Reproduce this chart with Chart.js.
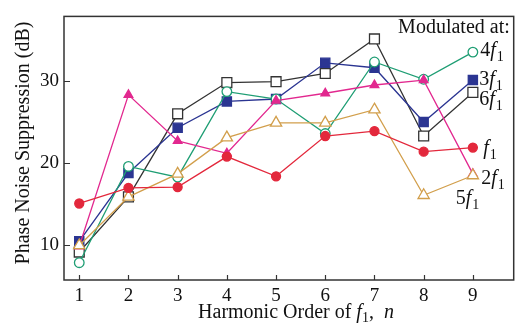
<!DOCTYPE html>
<html>
<head>
<meta charset="utf-8">
<script src="https://cdn.jsdelivr.net/npm/chart.js@4.4.0/dist/chart.umd.min.js"></script>
<style>
  html, body { margin: 0; padding: 0; background: #fff; }
  #wrap { width: 522px; height: 327px; }
</style>
</head>
<body>
<div id="wrap"><canvas id="chart" width="522" height="327"></canvas></div>
<script>
// harmonic order n
const harmonics = [1, 2, 3, 4, 5, 6, 7, 8, 9];
const xTicks = [1, 2, 3, 4, 5, 6, 7, 8, 9];
const yTicks = [10, 20, 30];

// phase noise suppression (dB), one list per modulation frequency
const modF1 = [15.1, 17.0, 17.1, 20.8, 18.4, 23.3, 23.9, 21.4, 21.9];
const mod2F1 = [9.9, 28.3, 22.7, 21.2, 27.6, 28.5, 29.5, 30.1, 18.7];
const mod3F1 = [10.5, 18.8, 24.3, 27.5, 27.8, 32.2, 31.6, 25.0, 30.1];
const mod4F1 = [7.9, 19.6, 18.3, 28.7, 27.8, 23.6, 32.3, 30.2, 33.5];
const mod5F1 = [10.0, 15.9, 18.7, 23.1, 24.9, 24.9, 26.5, 16.1, 18.5];
const mod6F1 = [9.2, 15.9, 26.0, 29.8, 29.9, 30.9, 35.1, 23.3, 28.6];

const serif = "'Liberation Serif', 'DejaVu Serif', serif";

const toPoints = vals => vals.map((v, i) => ({ x: harmonics[i], y: v }));

function series(label, vals, color, style, filled, radius) {
  return {
    label,
    data: toPoints(vals),
    borderColor: color,
    backgroundColor: filled ? color : '#ffffff',
    pointStyle: style,
    pointRadius: radius,
    pointBorderWidth: 1.3,
    pointBorderColor: color,
    pointBackgroundColor: filled ? color : '#ffffff',
    borderWidth: 1.3,
    tension: 0,
  };
}

// in-plot labels (data coordinates)
const seriesLabels = [
  { pre: '4', x: 9.15, y: 33.04 },
  { pre: '3', x: 9.13, y: 29.56 },
  { pre: '6', x: 9.13, y: 27.04 },
  { pre: '', x: 9.21, y: 21.16 },
  { pre: '2', x: 9.17, y: 17.44 },
  { pre: '5', x: 8.65, y: 15.04 },
];

function drawF(ctx, pre, x, y) {
  ctx.textAlign = 'left';
  ctx.textBaseline = 'alphabetic';
  ctx.font = '20px ' + serif;
  ctx.fillText(pre, x, y);
  x += ctx.measureText(pre).width;
  ctx.font = 'italic 20px ' + serif;
  ctx.fillText('f', x, y);
  x += ctx.measureText('f').width + 1;
  ctx.font = '14px ' + serif;
  ctx.fillText('1', x, y + 5);
  return x + ctx.measureText('1').width;
}

const decorPlugin = {
  id: 'decor',
  afterDraw(chart) {
    const ctx = chart.ctx;
    const a = chart.chartArea;
    const xs = chart.scales.x;
    const ys = chart.scales.y;
    ctx.save();
    ctx.strokeStyle = '#333';
    ctx.lineWidth = 1.5;
    ctx.strokeRect(a.left, a.top, a.right - a.left, a.bottom - a.top);
    ctx.lineWidth = 1.2;
    ctx.beginPath();
    xTicks.forEach(v => {
      const px = Math.round(xs.getPixelForValue(v)) + 0.5;
      ctx.moveTo(px, a.bottom);
      ctx.lineTo(px, a.bottom - 5);
    });
    yTicks.forEach(v => {
      const py = Math.round(ys.getPixelForValue(v)) + 0.5;
      ctx.moveTo(a.left, py);
      ctx.lineTo(a.left + 6, py);
    });
    ctx.stroke();

    ctx.fillStyle = '#111';
    // legend text
    ctx.font = '20px ' + serif;
    ctx.textAlign = 'right';
    ctx.textBaseline = 'alphabetic';
    ctx.fillText('Modulated at:', xs.getPixelForValue(9.75), ys.getPixelForValue(35.8));
    seriesLabels.forEach(l => {
      drawF(ctx, l.pre, xs.getPixelForValue(l.x), ys.getPixelForValue(l.y));
    });

    // y title
    ctx.save();
    ctx.translate(29, 143);
    ctx.rotate(-Math.PI / 2);
    ctx.font = '20px ' + serif;
    ctx.textAlign = 'center';
    ctx.fillText('Phase Noise Suppression (dB)', 0, 0);
    ctx.restore();

    // x title with italic parts
    const parts = [
      ['Harmonic Order of ', '20px'],
      ['f', 'italic 20px'],
      ['1', '14px', 4],
      [',  ', '20px'],
      ['n', 'italic 20px'],
    ];
    let total = 0;
    parts.forEach(p => { ctx.font = p[1] + ' ' + serif; total += ctx.measureText(p[0]).width; });
    let x = 296 - total / 2;
    ctx.textAlign = 'left';
    parts.forEach(p => {
      ctx.font = p[1] + ' ' + serif;
      ctx.fillText(p[0], x, 318 + (p[2] || 0));
      x += ctx.measureText(p[0]).width;
    });
    ctx.restore();
  }
};

new Chart(document.getElementById('chart').getContext('2d'), {
  type: 'line',
  data: {
    datasets: [
      series('f1', modF1, '#e3283c', 'circle', true, 4.5),
      series('5f1', mod5F1, '#d29f4c', 'triangle', false, 6.5),
      series('2f1', mod2F1, '#e2288f', 'triangle', true, 5),
      series('4f1', mod4F1, '#1f9e74', 'circle', false, 4.8),
      series('3f1', mod3F1, '#2b3592', 'rect', true, 6.5),
      series('6f1', mod6F1, '#333333', 'rect', false, 7),
    ],
  },
  options: {
    responsive: false,
    animation: false,
    layout: { padding: { top: 13, right: 1, left: 0, bottom: 0 } },
    plugins: {
      legend: { display: false },
      tooltip: { enabled: false },
    },
    scales: {
      x: {
        type: 'linear',
        min: 0.69,
        max: 9.83,
        afterBuildTicks: s => { s.ticks = xTicks.map(v => ({ value: v })); },
        afterFit: s => { s.height = 47; },
        grid: { display: false, drawTicks: false },
        border: { display: false },
        ticks: { color: '#111', padding: 5, font: { family: serif, size: 19 } },
      },
      y: {
        min: 5.8,
        max: 37.84,
        afterBuildTicks: s => { s.ticks = yTicks.map(v => ({ value: v })); },
        afterFit: s => { s.width = 64; },
        grid: { display: false, drawTicks: false },
        border: { display: false },
        ticks: { color: '#111', padding: 5, font: { family: serif, size: 19 } },
      },
    },
  },
  plugins: [decorPlugin],
});
</script>
</body>
</html>
